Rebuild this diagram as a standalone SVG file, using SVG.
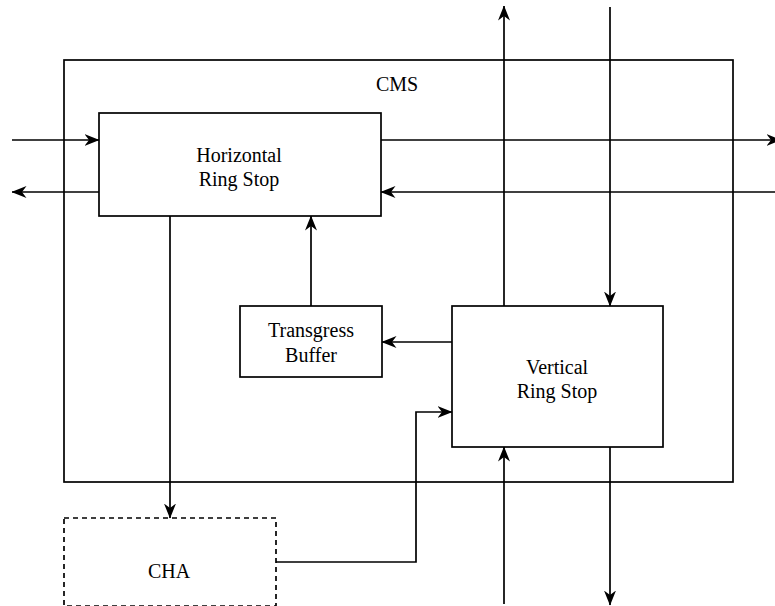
<svg xmlns="http://www.w3.org/2000/svg" width="775" height="606" viewBox="0 0 775 606">
<defs>
<marker id="arr" viewBox="0 0 15 12" refX="14.5" refY="6" markerWidth="15" markerHeight="12" markerUnits="userSpaceOnUse" orient="auto">
<path d="M0,0 L15,6 L0,12 L4.5,6 Z" fill="#000"/>
</marker>
<style>
.box{fill:#fff;stroke:#000;stroke-width:1.7}
.dash{fill:#fff;stroke:#000;stroke-width:1.7;stroke-dasharray:5,4}
.ln{fill:none;stroke:#000;stroke-width:1.7}
text{font-family:"Liberation Serif","Times New Roman",serif;font-size:20px;fill:#000;text-anchor:middle}
</style>
</defs>
<rect width="775" height="606" fill="#fff"/>
<g id="cms">
<rect class="box" x="64" y="60" width="669" height="422"/>
<text x="397" y="91">CMS</text>
</g>
<g id="hrs">
<rect class="box" x="99" y="113" width="282" height="103"/>
<text x="239" y="162">Horizontal</text>
<text x="239" y="186">Ring Stop</text>
</g>
<g id="tb">
<rect class="box" x="240" y="306" width="142" height="71"/>
<text x="311" y="337">Transgress</text>
<text x="311" y="362">Buffer</text>
</g>
<g id="vrs">
<rect class="box" x="452" y="306" width="211" height="141"/>
<text x="557" y="374">Vertical</text>
<text x="557" y="398">Ring Stop</text>
</g>
<g id="cha">
<rect class="dash" x="64" y="518" width="212" height="88"/>
<text x="169" y="578">CHA</text>
</g>
<g id="connectors">
<path class="ln" d="M12,140 L99,140" marker-end="url(#arr)"/>
<path class="ln" d="M99,192 L12,192" marker-end="url(#arr)"/>
<path class="ln" d="M381,140 L781,140" marker-end="url(#arr)"/>
<path class="ln" d="M776,192 L381,192" marker-end="url(#arr)"/>
<path class="ln" d="M504,306 L504,6" marker-end="url(#arr)"/>
<path class="ln" d="M610,7 L610,306" marker-end="url(#arr)"/>
<path class="ln" d="M504,604 L504,447" marker-end="url(#arr)"/>
<path class="ln" d="M610,447 L610,605" marker-end="url(#arr)"/>
<path class="ln" d="M452,342 L382,342" marker-end="url(#arr)"/>
<path class="ln" d="M311,306 L311,216" marker-end="url(#arr)"/>
<path class="ln" d="M170,216 L170,518" marker-end="url(#arr)"/>
<path class="ln" d="M276,562 L416,562 L416,412 L452,412" marker-end="url(#arr)"/>
</g>
</svg>
